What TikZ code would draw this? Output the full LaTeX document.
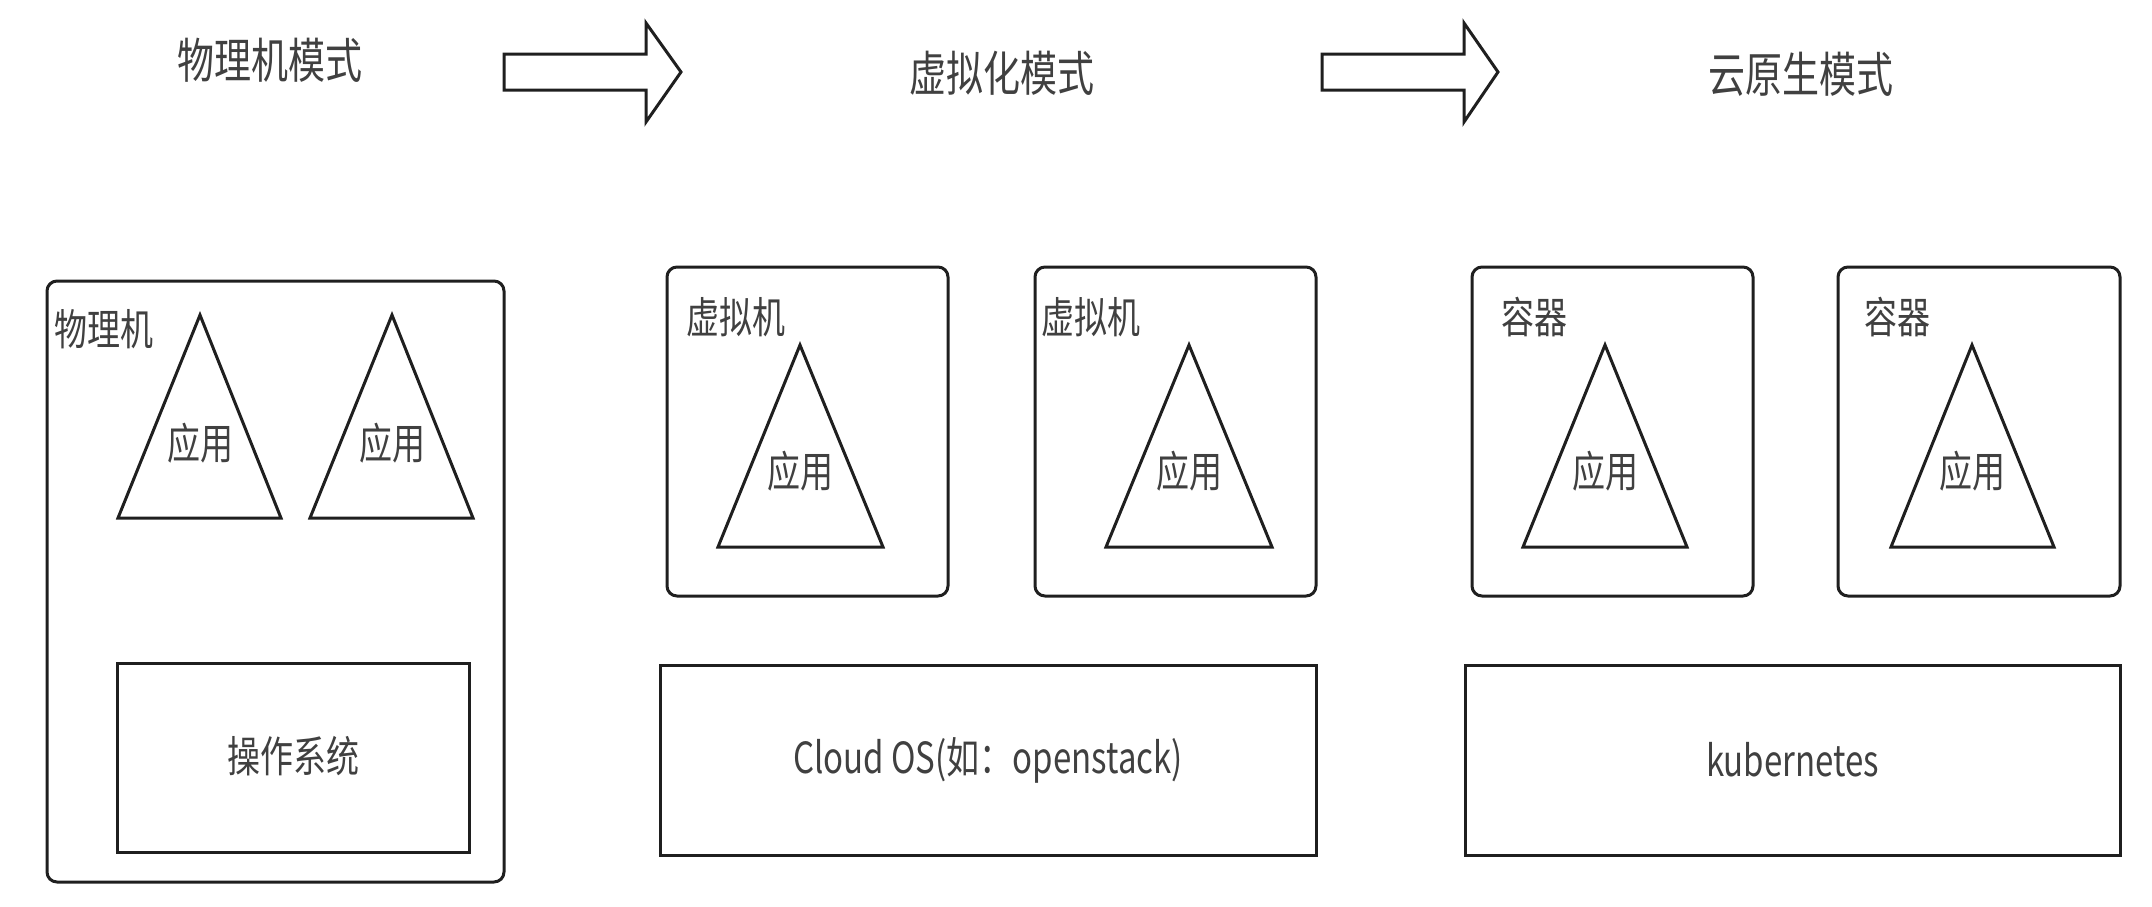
\documentclass[tikz,border=0pt]{standalone}
\usepackage{fontspec}
\setmainfont{Noto Sans CJK SC}
\usepackage{graphicx}
\newcommand{\tall}[1]{\scalebox{1}[1.3]{#1}}
\tikzset{
  box/.style={draw=black!88, line width=3pt, inner sep=0pt, outer sep=0pt},
  rbox/.style={box, rounded corners=10pt},
  shp/.style={draw=black!88, line width=3pt, line join=miter},
  txt/.style={text=black!75, inner sep=0pt, font=\fontsize{33}{40}\selectfont},
  ttl/.style={text=black!75, inner sep=0pt, font=\fontsize{37}{44}\selectfont},
}
\begin{document}
\begin{tikzpicture}[x=1pt, y=-1pt]
\useasboundingbox (0,0) rectangle (2152,906);
% titles
\node[ttl] (t1) at (270,60) {\tall{物理机模式}};
\node[ttl] (t2) at (1002,73) {\tall{虚拟化模式}};
\node[ttl] (t3) at (1801,74) {\tall{云原生模式}};
% arrows
\draw[shp] (504,54) -- (646,54) -- (646,23) -- (681,72) -- (646,122) -- (646,90) -- (504,90) -- cycle;
\draw[shp] (1322,54) -- (1464,54) -- (1464,23) -- (1498,72) -- (1464,122) -- (1464,90) -- (1322,90) -- cycle;
% physical machine
\node[rbox, minimum width=457pt, minimum height=601pt] (phys) at (275.5,581.5) {};
\node[txt] (physl) at (104,329) {\tall{物理机}};
\draw[shp] (200,315) -- (281,518) -- (118,518) -- cycle;
\draw[shp] (392,315) -- (473,518) -- (310,518) -- cycle;
\node[txt] (app1) at (200,443) {\tall{应用}};
\node[txt] (app2) at (392,443) {\tall{应用}};
\node[box, minimum width=352pt, minimum height=189pt] (os) at (293,757.5) {};
\node[txt] (osl) at (293,756) {\tall{操作系统}};
% virtual machines
\node[rbox, minimum width=281pt, minimum height=329pt] (vm1) at (807.5,431.5) {};
\node[rbox, minimum width=281pt, minimum height=329pt] (vm2) at (1175.5,431.5) {};
\node[txt] (vm1l) at (736,317) {\tall{虚拟机}};
\node[txt] (vm2l) at (1091,317) {\tall{虚拟机}};
\draw[shp] (800,345) -- (883,547) -- (718,547) -- cycle;
\draw[shp] (1189,345) -- (1272,547) -- (1106,547) -- cycle;
\node[txt] (app3) at (800,471) {\tall{应用}};
\node[txt] (app4) at (1189,471) {\tall{应用}};
\node[box, minimum width=656pt, minimum height=190pt] (cos) at (988,760) {};
\node[txt] (cosl) at (988,760) {\tall{Cloud OS(如：openstack)}};
% containers
\node[rbox, minimum width=281pt, minimum height=329pt] (c1) at (1612.5,431.5) {};
\node[rbox, minimum width=282pt, minimum height=329pt] (c2) at (1979,431.5) {};
\node[txt] (c1l) at (1534,317) {\tall{容器}};
\node[txt] (c2l) at (1897,317) {\tall{容器}};
\draw[shp] (1605,345) -- (1687,547) -- (1523,547) -- cycle;
\draw[shp] (1972,345) -- (2054,547) -- (1891,547) -- cycle;
\node[txt] (app5) at (1605,471) {\tall{应用}};
\node[txt] (app6) at (1972,471) {\tall{应用}};
\node[box, minimum width=655pt, minimum height=190pt] (k8s) at (1792.5,760) {};
\node[txt] (k8sl) at (1792.5,760) {\tall{kubernetes}};
\end{tikzpicture}
\end{document}
